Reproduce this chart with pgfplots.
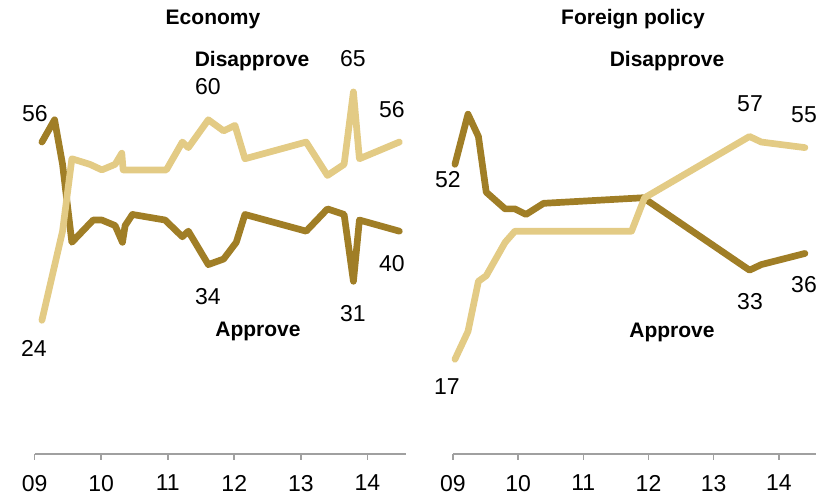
\documentclass[border=0pt]{standalone}
\usepackage{fontspec}
\setmainfont{Liberation Sans}
\usepackage{pgfplots}
\pgfplotsset{compat=1.18}
\definecolor{darkgold}{HTML}{A07E26}
\definecolor{lightgold}{HTML}{E3CB85}
\definecolor{axisgray}{HTML}{A0A0A0}
\pgfplotsset{
  panel/.style={
    scale only axis, height=208.9pt, ymin=0, ymax=75, xmin=2009,
    axis x line=bottom, axis y line=none, clip=false,
    x axis line style={axisgray, line width=0.8pt, -},
    xtick={2009,2010,2011,2012,2013,2014},
    xticklabels={09,10,11,12,13,14},
    tick align=outside, major tick length=3pt,
    tick style={axisgray, line width=0.8pt},
    xticklabel style={font=\fontsize{11.5}{13}\selectfont, text=black, yshift=-4pt},
    every axis plot/.append style={line width=3.35pt, line join=round, line cap=round},
  }
}
\begin{document}
\begin{tikzpicture}
\useasboundingbox (0,0) rectangle (413pt,248pt);
% Economy
\begin{axis}[panel, at={(17.3pt,21pt)}, anchor=south west, width=185.7pt, xmax=2014.58]
\addplot[darkgold] coordinates {(2009.11,56) (2009.30,60) (2009.42,52) (2009.56,38) (2009.88,42) (2010.01,42) (2010.21,41) (2010.32,38) (2010.36,41) (2010.47,43) (2010.96,42) (2011.22,39) (2011.31,40) (2011.61,34) (2011.84,35) (2012.03,38) (2012.16,43) (2013.08,40) (2013.40,44) (2013.65,43) (2013.79,31) (2013.88,42) (2014.48,40)};
\addplot[lightgold] coordinates {(2009.11,24) (2009.42,40) (2009.56,53) (2009.83,52) (2010.01,51) (2010.21,52) (2010.31,54) (2010.33,51) (2010.98,51) (2011.22,56) (2011.31,55) (2011.61,60) (2011.84,58) (2012.01,59) (2012.16,53) (2013.08,56) (2013.40,50) (2013.65,52) (2013.79,65) (2013.88,53) (2014.48,56)};
\end{axis}
% Foreign policy
\begin{axis}[panel, at={(226.5pt,21pt)}, anchor=south west, width=181.5pt, xmax=2014.57]
\addplot[darkgold] coordinates {(2009.03,52) (2009.23,61) (2009.39,57) (2009.51,47) (2009.80,44) (2009.95,44) (2010.12,43) (2010.39,45) (2011.92,46) (2013.55,33) (2013.73,34) (2014.40,36)};
\addplot[lightgold] coordinates {(2009.03,17) (2009.23,22) (2009.39,31) (2009.51,32) (2009.80,38) (2009.95,40) (2011.74,40) (2011.94,46) (2013.55,57) (2013.73,56) (2014.40,55)};
\end{axis}
\begin{scope}[yshift=248pt, x=0.5pt, y=-0.5pt]
\tikzset{num/.style={anchor=base, inner sep=0pt, font=\fontsize{11.5}{13}\selectfont},
         lab/.style={anchor=base, inner sep=0pt, font=\fontsize{10.5}{12}\selectfont\bfseries}}
\node[lab] at (213,25) {Economy};
\node[lab] at (633,25) {Foreign policy};
\node[lab] at (252,67) {Disapprove};
\node[lab] at (667,67) {Disapprove};
\node[lab] at (258,337) {Approve};
\node[lab] at (672,338) {Approve};
\node[num] at (35,122) {56};
\node[num] at (34,357) {24};
\node[num] at (208,95) {60};
\node[num] at (392,118) {56};
\node[num] at (208,305) {34};
\node[num] at (353,322) {31};
\node[num] at (392,272) {40};
\node[num] at (353,67) {65};
\node[num] at (448,188) {52};
\node[num] at (447,395) {17};
\node[num] at (750,112) {57};
\node[num] at (804,123) {55};
\node[num] at (750,310) {33};
\node[num] at (804,293) {36};
\end{scope}
\end{tikzpicture}
\end{document}
